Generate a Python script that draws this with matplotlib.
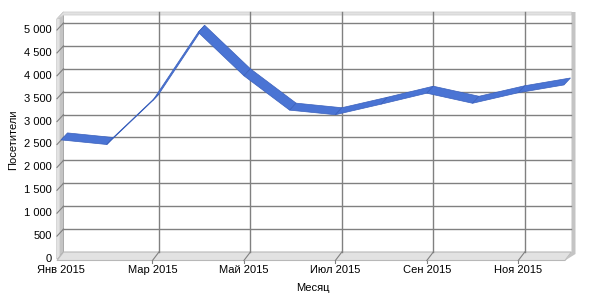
import numpy as np
import matplotlib
matplotlib.use('Agg')
import matplotlib.pyplot as plt
from matplotlib.patches import Polygon

################################ data
months = ['Янв 2015', 'Фев 2015', 'Мар 2015', 'Апр 2015', 'Май 2015', 'Июн 2015',
          'Июл 2015', 'Авг 2015', 'Сен 2015', 'Окт 2015', 'Ноя 2015', 'Дек 2015']
visitors = [2600, 2500, 3450, 4950, 4000, 3250, 3150, 3380, 3620, 3400, 3630, 3800]
yticks = [0, 500, 1000, 1500, 2000, 2500, 3000, 3500, 4000, 4500, 5000]
ytick_labels = ['0', '500', '1 000', '1 500', '2 000', '2 500', '3 000',
                '3 500', '4 000', '4 500', '5 000']
xtick_idx = [0, 2, 4, 6, 8, 10]

plt.rcParams['font.family'] = ['Liberation Sans', 'DejaVu Sans']

################################ figure / front plane
fig = plt.figure(figsize=(6, 3), dpi=100)
ax = fig.add_axes([57/600, 41/300, 508/600, 240/300])
xmin, xmax = -0.0875, 11.022
ymax = 5240
ax.set_xlim(xmin, xmax)
ax.set_ylim(0, ymax)
ax.axis('off')

# depth offset (pixels) converted to data units
px_x = (xmax - xmin) / 508
px_y = ymax / 240
ddx = 6.5 * px_x
ddy = 7 * px_y

x = np.arange(len(visitors))
xl, xr = xmin, x[-1] + 1 * px_x

################################ walls / floor
wall_gray = '#c4c4c4'
light_gray = '#e2e2e2'
grid_c = '#808080'

# left wall
ax.add_patch(Polygon([(xl, 0), (xl + ddx, ddy), (xl + ddx, ymax + ddy), (xl, ymax)],
                     closed=True, fc=wall_gray, ec='#a0a0a0', lw=0.6, clip_on=False, zorder=1))
ax.add_patch(Polygon([(xl, 0), (xl + 0.4 * ddx, 0.4 * ddy), (xl + 0.4 * ddx, ymax), (xl, ymax)],
                     closed=True, fc=light_gray, ec='none', clip_on=False, zorder=1))
# top rim
ax.add_patch(Polygon([(xl, ymax), (xl + ddx, ymax + ddy), (xr + ddx, ymax + ddy),
                      (xr + ddx, ymax + ddy - 3 * px_y), (xl + ddx, ymax + ddy - 3 * px_y)],
                     closed=True, fc=light_gray, ec='#d0d0d0', lw=0.6, clip_on=False, zorder=1))
# floor
ax.add_patch(Polygon([(xl, -1.5 * px_y), (xl + ddx, ddy), (xr + ddx, ddy), (xr, -1.5 * px_y)],
                     closed=True, fc=light_gray, ec='#b8b8b8', lw=0.8, clip_on=False, zorder=1))
# right wall
ax.add_patch(Polygon([(xr + ddx, ddy), (xr + ddx, ymax + ddy), (xr + ddx + 4 * px_x, ymax + ddy),
                      (xr + ddx + 4 * px_x, ddy - 2 * px_y), (xr, -1.5 * px_y)],
                     closed=True, fc=wall_gray, ec='none', clip_on=False, zorder=1))

################################ grid on back plane
for v in yticks[1:]:
    ax.plot([xl + ddx, xr + ddx], [v + ddy, v + ddy], color=grid_c, lw=1, clip_on=False, zorder=2)
    ax.plot([xl, xl + ddx], [v, v + ddy], color=grid_c, lw=0.8, clip_on=False, zorder=2)
for i in xtick_idx[1:]:
    ax.plot([x[i] + ddx, x[i] + ddx], [ddy, ymax + ddy], color=grid_c, lw=1, clip_on=False, zorder=2)
    ax.plot([x[i], x[i] + ddx], [-1.5 * px_y, ddy], color=grid_c, lw=0.8, clip_on=False, zorder=2)
    ax.plot([x[i], x[i]], [-1.5 * px_y, -4 * px_y], color=grid_c, lw=0.8, clip_on=False, zorder=2)

################################ ribbon
for i in range(len(visitors) - 1):
    pts = [(x[i], visitors[i]), (x[i + 1], visitors[i + 1]),
           (x[i + 1] + ddx, visitors[i + 1] + ddy), (x[i] + ddx, visitors[i] + ddy)]
    ax.add_patch(Polygon(pts, closed=True, fc='#4a74d4', ec='#3a60bc', lw=0.5,
                         clip_on=False, zorder=3))

################################ labels
for v, lab in zip(yticks, ytick_labels):
    ax.text(xl - 5 * px_x, v, lab, ha='right', va='center', fontsize=8)
for i in xtick_idx:
    ax.text(x[i], -6 * px_y, months[i], ha='center', va='top', fontsize=8)

fig.text(13/600, 1 - 140/300, 'Посетители', rotation=90, ha='center', va='center', fontsize=8)
fig.text(313/600, 1 - 288/300, 'Месяц', ha='center', va='center', fontsize=8)

plt.savefig('out.png', dpi=100)
